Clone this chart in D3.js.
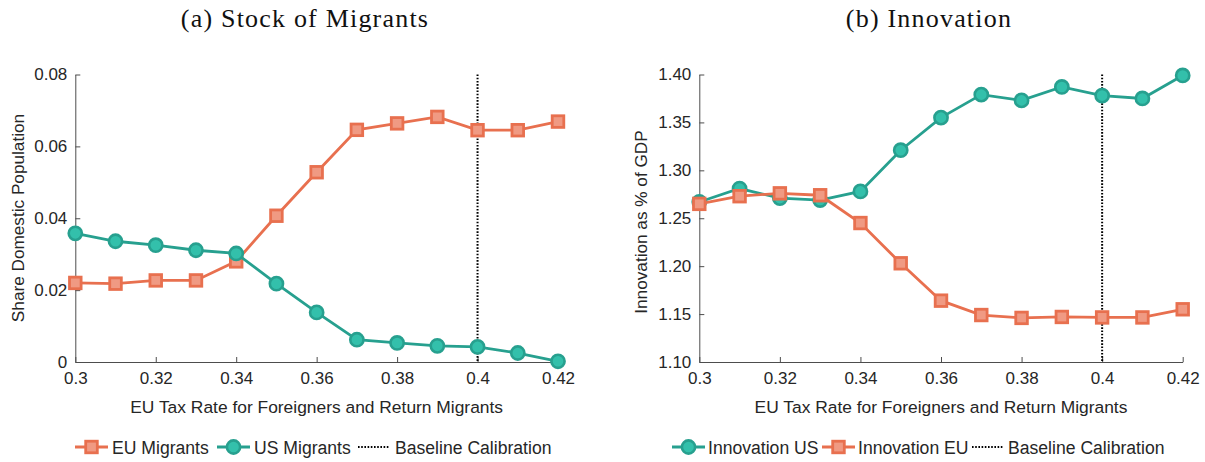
<!DOCTYPE html>
<html>
<head>
<meta charset="utf-8">
<script src="https://cdn.jsdelivr.net/npm/d3@7"></script>
<style>
  body { margin: 0; background: #fff; }
  text { font-family: "Liberation Sans", Arial, sans-serif; fill: #262626; }
  .title { font-family: "Liberation Serif", "DejaVu Serif", serif; font-size: 26px; letter-spacing: 1.2px; fill: #111; }
  .axis path, .axis line { stroke: #4d4d4d; }
  .axis text { font-size: 17px; fill: #262626; }
</style>
</head>
<body>
<svg id="svg" width="1205" height="462"></svg>
<script>
// tax rates on the x axis
var taxRates = [0.30, 0.31, 0.32, 0.33, 0.34, 0.35, 0.36, 0.37, 0.38, 0.39, 0.40, 0.41, 0.42];
var baseline = 0.40;

// panel (a) stock of migrants
var euMigrants = [0.0220, 0.0218, 0.0227, 0.0227, 0.0280, 0.0407, 0.0528, 0.0646, 0.0664, 0.0682, 0.0645, 0.0645, 0.0669];
var usMigrants = [0.0358, 0.0336, 0.0325, 0.0311, 0.0302, 0.0218, 0.0138, 0.0062, 0.0053, 0.0045, 0.0042, 0.0025, 0.0002];

// panel (b) innovation
var innovationUS = [1.267, 1.281, 1.271, 1.269, 1.278, 1.321, 1.355, 1.379, 1.373, 1.387, 1.378, 1.375, 1.399];
var innovationEU = [1.265, 1.273, 1.276, 1.274, 1.245, 1.203, 1.164, 1.149, 1.146, 1.147, 1.1465, 1.1465, 1.155];

var xTicks = [0.30, 0.32, 0.34, 0.36, 0.38, 0.40, 0.42];
var yTicksA = [0, 0.02, 0.04, 0.06, 0.08];
var yTicksB = [1.10, 1.15, 1.20, 1.25, 1.30, 1.35, 1.40];

var TEAL = "#27a08f", TEAL_FILL = "#33c0ab";
var ORANGE = "#e8704f", ORANGE_FILL = "#f09a83";

var svg = d3.select("svg");

function drawPanel(p) {
    var x = d3.scaleLinear().domain([0.30, 0.42]).range([p.left, p.right]);
    var y = d3.scaleLinear().domain(p.yDomain).range([362, 74.5]);
    var g = svg.append("g");

    g.append("g")
        .attr("class", "axis")
        .attr("transform", "translate(0,362)")
        .call(d3.axisBottom(x).tickValues(xTicks).tickSizeInner(-5).tickSizeOuter(0).tickPadding(10)
            .tickFormat(function(d) { return String(+d.toFixed(2)); }));

    g.append("g")
        .attr("class", "axis")
        .attr("transform", "translate(" + p.left + ",0)")
        .call(d3.axisLeft(y).tickValues(p.yTicks).tickSizeInner(-5).tickSizeOuter(0).tickPadding(8)
            .tickFormat(p.yFormat));

    // baseline calibration
    g.append("line")
        .attr("x1", x(baseline)).attr("x2", x(baseline))
        .attr("y1", y(p.yDomain[1])).attr("y2", y(p.yDomain[0]))
        .attr("stroke", "#000").attr("stroke-width", 2)
        .attr("stroke-dasharray", "1.6,1.6");

    p.series.forEach(function(s) {
        var pts = taxRates.map(function(t, i) { return [t, s.values[i]]; });
        var line = d3.line()
            .x(function(d) { return x(d[0]); })
            .y(function(d) { return y(d[1]); });
        g.append("path")
            .attr("d", line(pts))
            .attr("fill", "none")
            .attr("stroke", s.color)
            .attr("stroke-width", 2.8);
        drawMarkers(g, pts.map(function(d) { return [x(d[0]), y(d[1])]; }), s);
    });

    g.append("text")
        .attr("class", "title")
        .attr("x", p.titleX).attr("y", 27)
        .attr("text-anchor", "middle")
        .text(p.title);

    g.append("text")
        .attr("x", (p.left + p.right) / 2).attr("y", 413)
        .attr("text-anchor", "middle")
        .style("font-size", "17.4px")
        .text("EU Tax Rate for Foreigners and Return Migrants");

    g.append("text")
        .attr("transform", "translate(" + p.yTitleX + "," + p.yTitleY + ") rotate(-90)")
        .attr("text-anchor", "middle")
        .style("font-size", "17.2px")
        .text(p.yTitle);

    // legend
    var lg = g.append("g");
    p.legend.forEach(function(it) {
        var cy = 447;
        if (it.dotted) {
            lg.append("line")
                .attr("x1", it.x).attr("x2", it.x + 31)
                .attr("y1", cy).attr("y2", cy)
                .attr("stroke", "#000").attr("stroke-width", 2)
                .attr("stroke-dasharray", "1.6,1.6");
        } else {
            lg.append("line")
                .attr("x1", it.x).attr("x2", it.x + 33)
                .attr("y1", cy).attr("y2", cy)
                .attr("stroke", it.s.color).attr("stroke-width", 2.8);
            drawMarkers(lg, [[it.x + 16.5, cy]], it.s);
        }
        lg.append("text")
            .attr("x", it.tx).attr("y", cy + 6.5)
            .style("font-size", "17.6px")
            .text(it.label);
    });
}

function drawMarkers(g, pts, s) {
    if (s.shape === "circle") {
        g.selectAll(null).data(pts).enter().append("circle")
            .attr("cx", function(d) { return d[0]; })
            .attr("cy", function(d) { return d[1]; })
            .attr("r", 6.6)
            .attr("fill", s.fill)
            .attr("stroke", s.color)
            .attr("stroke-width", 2.6);
    } else {
        g.selectAll(null).data(pts).enter().append("rect")
            .attr("x", function(d) { return d[0] - 5.8; })
            .attr("y", function(d) { return d[1] - 5.8; })
            .attr("width", 11.6).attr("height", 11.6)
            .attr("fill", s.fill)
            .attr("stroke", s.color)
            .attr("stroke-width", 2.8);
    }
}

var euA = { values: euMigrants, color: ORANGE, fill: ORANGE_FILL, shape: "square" };
var usA = { values: usMigrants, color: TEAL, fill: TEAL_FILL, shape: "circle" };
var usB = { values: innovationUS, color: TEAL, fill: TEAL_FILL, shape: "circle" };
var euB = { values: innovationEU, color: ORANGE, fill: ORANGE_FILL, shape: "square" };

drawPanel({
    left: 75.3, right: 558,
    yDomain: [0, 0.08], yTicks: yTicksA,
    yFormat: function(d) { return d === 0 ? "0" : d3.format(".2f")(d); },
    series: [euA, usA],
    title: "(a) Stock of Migrants", titleX: 305,
    yTitle: "Share Domestic Population", yTitleX: 24, yTitleY: 218,
    legend: [
        { x: 75, tx: 112, label: "EU Migrants", s: euA },
        { x: 217, tx: 254, label: "US Migrants", s: usA },
        { x: 358, tx: 395, label: "Baseline Calibration", dotted: true }
    ]
});

drawPanel({
    left: 699.3, right: 1182.7,
    yDomain: [1.10, 1.40], yTicks: yTicksB,
    yFormat: d3.format(".2f"),
    series: [usB, euB],
    title: "(b) Innovation", titleX: 929,
    yTitle: "Innovation as % of GDP", yTitleX: 647, yTitleY: 222,
    legend: [
        { x: 672, tx: 708, label: "Innovation US", s: usB },
        { x: 822, tx: 858, label: "Innovation EU", s: euB },
        { x: 972, tx: 1008, label: "Baseline Calibration", dotted: true }
    ]
});
</script>
</body>
</html>
